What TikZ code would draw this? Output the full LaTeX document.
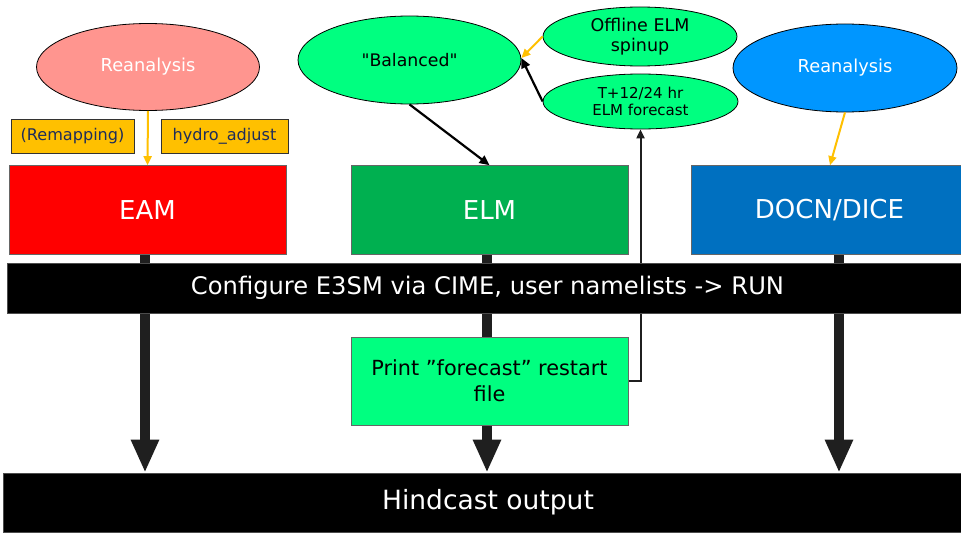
\documentclass[tikz,border=0pt]{standalone}
\usepackage{fontspec}
\setmainfont{DejaVu Sans}
\newfontfamily\plainquotes{DejaVu Sans}
\usetikzlibrary{shapes.geometric,arrows.meta,backgrounds}
\definecolor{reapink}{HTML}{FF958F}
\definecolor{boxorange}{HTML}{FFC000}
\definecolor{navytext}{HTML}{1F2D5A}
\definecolor{eamred}{HTML}{FF0000}
\definecolor{elmgreen}{HTML}{00B050}
\definecolor{docnblue}{HTML}{0070C0}
\definecolor{reablue}{HTML}{0096FF}
\definecolor{litegreen}{HTML}{00FF80}
\definecolor{shaft}{HTML}{1F1F1F}
\newcommand{\fs}[2]{\fontsize{#1}{#2}\selectfont}
\tikzset{
  ell/.style={ellipse, draw=black, line width=0.8pt, inner sep=0pt},
  tagbox/.style={rectangle, draw=black!80, line width=0.8pt, fill=boxorange, text=navytext, inner sep=0pt, font=\fs{16.1}{19}},
  compbox/.style={rectangle, draw=black!60, line width=0.6pt, inner sep=0pt, minimum width=277pt, minimum height=89pt, text=white, font=\fs{26}{30}},
  bar/.style={rectangle, fill=black, draw=black!70, line width=0.6pt, inner sep=0pt, text=white},
  bigarrow/.style={draw=shaft, fill=shaft, line width=10pt, -{Triangle[length=33pt,width=26pt]}},
  orangearrow/.style={draw=boxorange, line width=2pt, -{Triangle[length=9pt,width=8pt]}},
  blackarrow/.style={draw=black, line width=2.2pt, -{Triangle[length=10pt,width=9pt]}},
  thinarrow/.style={draw=shaft, line width=2pt, -{Triangle[length=9pt,width=8pt]}},
}
\begin{document}
\begin{tikzpicture}[x=1pt,y=-1pt]
\useasboundingbox (0,0) rectangle (961,535);

% ellipses
\node[ell, fill=reapink, minimum width=223pt, minimum height=87pt, text=white, font=\fs{17.8}{20}] (rea1) at (148,67) {Reanalysis};
\node[ell, fill=litegreen, minimum width=223pt, minimum height=88pt, font=\plainquotes\fs{17.3}{20}] (bal) at (409.5,60) {"Balanced"};
\node[ell, fill=litegreen, minimum width=194pt, minimum height=59pt, font=\fs{17.5}{20}, align=center] (off) at (640,36.5) {Offline ELM\\spinup};
\node[ell, fill=litegreen, minimum width=195pt, minimum height=55pt, font=\fs{15}{17}, align=center] (t12) at (640.5,101.5) {T+12/24 hr\\ELM forecast};
\node[ell, fill=reablue, minimum width=224pt, minimum height=88pt, text=white, font=\fs{17.8}{20}] (rea2) at (845,68) {Reanalysis};

% tag boxes
\node[tagbox, minimum width=123pt, minimum height=34pt] (remap) at (72.5,136) {(Remapping)};
\node[tagbox, minimum width=127pt, minimum height=34pt] (hydro) at (224.5,136) {hydro\_adjust};

% component boxes
\node[compbox, fill=eamred] (eam) at (147.5,210) {EAM};
\node[compbox, fill=elmgreen] (elm) at (489.5,210) {ELM};
\node[compbox, fill=docnblue] (docn) at (829.5,210) {DOCN/DICE};

% bars
\node[bar, minimum width=961pt, minimum height=50pt, font=\fs{24.2}{28}] (config) at (487.5,288) {Configure E3SM via CIME, user namelists -> RUN};
\node[bar, minimum width=970pt, minimum height=59pt, font=\fs{26.5}{30}] (hind) at (488,502.5) {Hindcast output};

% print box
\node[rectangle, draw=black!60, line width=0.6pt, fill=litegreen, inner sep=0pt, minimum width=277pt, minimum height=88pt, align=center, font=\fs{20.8}{26}] (print) at (489.5,381) {Print ”forecast” restart\\file};

\begin{scope}[on background layer]
  \fill[white] (0,0) rectangle (961,535);
  \draw[bigarrow] ([xshift=-2.5pt]eam.south) -- ([xshift=-2.5pt]eam.south |- hind.north);
  \draw[bigarrow] ([xshift=-2.5pt]elm.south) -- ([xshift=-2.5pt]elm.south |- hind.north);
  \draw[bigarrow] ([xshift=9.5pt]docn.south) -- ([xshift=9.5pt]docn.south |- hind.north);
  \draw[thinarrow] (print.east) -| (t12.south);
\end{scope}

% small connectors
\draw[orangearrow] (rea1.south) -- (eam.north);
\draw[orangearrow] (rea2.south) -- ([xshift=0.5pt]docn.north);
\draw[orangearrow] (off.west) -- ([yshift=2pt]bal.east);
\draw[blackarrow] (t12.west) -- ([yshift=2pt]bal.east);
\draw[blackarrow] (bal.south) -- (elm.north);
\end{tikzpicture}
\end{document}
